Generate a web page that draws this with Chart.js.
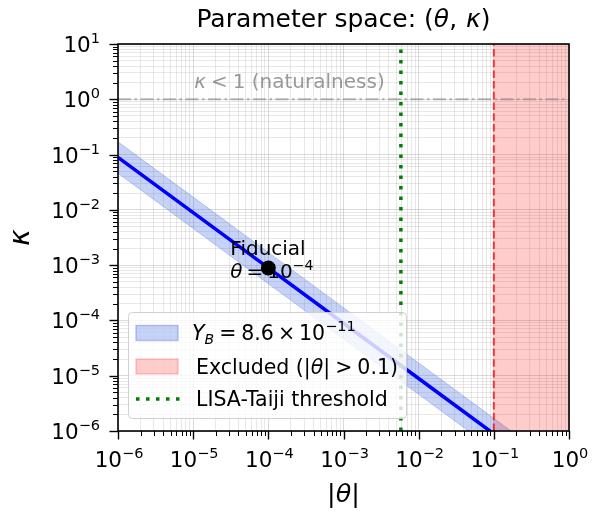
<!DOCTYPE html>
<html><head><meta charset="utf-8">
<script src="https://cdn.jsdelivr.net/npm/chart.js@4"></script>
<style>html,body{margin:0;padding:0;background:#fff;}canvas{display:block;}</style>
</head><body>
<canvas id="c" width="592" height="512"></canvas>
<script>
// ---- data ----
const thetaValues  = [1e-6, 1e-5, 1e-4, 1e-3, 1e-2, 1e-1, 1];
const kappaCentral = [8.9e-2, 8.9e-3, 8.9e-4, 8.9e-5, 8.9e-6, 8.9e-7, 8.9e-8];
const kappaUpper   = [1.7e-1, 1.7e-2, 1.7e-3, 1.7e-4, 1.7e-5, 1.7e-6, 1.7e-7];
const kappaLower   = [4.6e-2, 4.6e-3, 4.6e-4, 4.6e-5, 4.6e-6, 4.6e-7, 4.6e-8];
const excludedTheta = [0.1, 1];
const kappaNaturalness = 1;
const thetaLisaTaiji = 5.8e-3;
const fiducialTheta = [1e-4];
const fiducialKappa = [8.9e-4];
const xRange = [1e-6, 1];
const yRange = [1e-6, 10];
const xTickValues = [1e-6, 1e-5, 1e-4, 1e-3, 1e-2, 1e-1, 1];
const xTickExponents = ['−6', '−5', '−4', '−3', '−2', '−1', '0'];
const yTickValues = [1e-6, 1e-5, 1e-4, 1e-3, 1e-2, 1e-1, 1, 10];
const yTickExponents = ['−6', '−5', '−4', '−3', '−2', '−1', '0', '1'];
const legendLabels = ['Y_B = 8.6 × 10^-11', 'Excluded (|θ| > 0.1)', 'LISA-Taiji threshold'];

const FONT = "'DejaVu Sans', sans-serif";
const zip = (xs, ys) => xs.map((x, i) => ({x: x, y: ys[i]}));

function logTicks(majors) {
  const out = [];
  for (let i = 0; i < majors.length; i++) {
    out.push({value: majors[i], major: true});
    if (i < majors.length - 1) for (let m = 2; m <= 9; m++) out.push({value: majors[i] * m, major: false});
  }
  return out;
}

function drawPieces(ctx, pieces, x, y, align) {
  let w = 0;
  pieces.forEach(p => { ctx.font = (p.italic ? 'italic ' : '') + p.size + 'px ' + FONT; p.w = ctx.measureText(p.t).width; w += p.w + (p.gap || 0); });
  let cx = align === 'center' ? x - w / 2 : (align === 'right' ? x - w : x);
  ctx.textAlign = 'left'; ctx.textBaseline = 'alphabetic';
  pieces.forEach(p => { ctx.font = (p.italic ? 'italic ' : '') + p.size + 'px ' + FONT; ctx.fillText(p.t, cx, y + (p.dy || 0)); cx += p.w + (p.gap || 0); });
  return w;
}
const pow10 = e => [{t: '10', size: 21.5}, {t: e, size: 14.5, dy: -9}];

const decor = {
  id: 'decor',
  beforeDatasetDraw(chart, args) {
    if (args.index !== 0) return;
    const ctx = chart.ctx, xs = chart.scales.x, ys = chart.scales.y;
    ctx.save();
    ctx.fillStyle = 'rgba(128,128,128,0.8)';
    drawPieces(ctx, [{t: 'κ', italic: true, size: 20, gap: 5}, {t: '<', size: 20, gap: 5}, {t: '1 (naturalness)', size: 20}],
      xs.getPixelForValue(1e-5) + 1, ys.getPixelForValue(kappaNaturalness) - 11, 'left');
    const px = xs.getPixelForValue(fiducialTheta[0]), py = ys.getPixelForValue(fiducialKappa[0]);
    ctx.fillStyle = '#000';
    drawPieces(ctx, [{t: 'Fiducial', size: 20}], px - 38, py - 13, 'left');
    drawPieces(ctx, [{t: 'θ', italic: true, size: 20, gap: 4}, {t: '=', size: 20, gap: 4}, {t: '10', size: 20}, {t: '−4', size: 14, dy: -8}], px - 38, py + 10, 'left');
    ctx.restore();
  },
  afterDatasetsDraw(chart) {
    const ctx = chart.ctx, a = chart.chartArea;
    ctx.save();
    const L = a.left + 10, T = a.bottom - 119, W = 278, H = 106;
    ctx.beginPath();
    ctx.roundRect(L + 0.5, T + 0.5, W, H, 4);
    ctx.fillStyle = 'rgba(255,255,255,0.8)'; ctx.fill();
    ctx.strokeStyle = 'rgba(204,204,204,0.9)'; ctx.lineWidth = 1; ctx.stroke();
    const hx = L + 8, hw = 42, rows = [T + 21, T + 54.5, T + 87];
    ctx.fillStyle = 'rgba(65,105,225,0.3)'; ctx.fillRect(hx, rows[0] - 7.5, hw, 15);
    ctx.strokeStyle = 'rgba(65,105,225,0.35)'; ctx.lineWidth = 1.5; ctx.strokeRect(hx, rows[0] - 7.5, hw, 15);
    ctx.fillStyle = 'rgba(255,0,0,0.2)'; ctx.fillRect(hx, rows[1] - 7.5, hw, 15);
    ctx.strokeStyle = 'rgba(255,0,0,0.2)'; ctx.strokeRect(hx, rows[1] - 7.5, hw, 15);
    ctx.beginPath(); ctx.setLineDash([3.5, 6.5]); ctx.strokeStyle = 'green'; ctx.lineWidth = 3.5;
    ctx.moveTo(hx, rows[2]); ctx.lineTo(hx + hw + 2, rows[2]); ctx.stroke(); ctx.setLineDash([]);
    ctx.fillStyle = '#000';
    const tx = hx + hw + 18;
    drawPieces(ctx, [{t: 'Y', italic: true, size: 20.5}, {t: 'B', italic: true, size: 14, dy: 4, gap: 5}, {t: '=', size: 20.5, gap: 5}, {t: '8.6', size: 20.5, gap: 4}, {t: '×', size: 20.5, gap: 4}, {t: '10', size: 20.5}, {t: '−11', size: 14.5, dy: -9}], tx - 4, rows[0] + 7, 'left');
    drawPieces(ctx, [{t: 'Excluded (|', size: 20.5}, {t: 'θ', italic: true, size: 20.5}, {t: '|', size: 20.5, gap: 5}, {t: '>', size: 20.5, gap: 5}, {t: '0.1)', size: 20.5}], tx, rows[1] + 7, 'left');
    drawPieces(ctx, [{t: legendLabels[2], size: 20.5}], tx, rows[2] + 7, 'left');
    ctx.restore();
  },
  afterDraw(chart) {
    const ctx = chart.ctx, a = chart.chartArea, xs = chart.scales.x, ys = chart.scales.y;
    ctx.save();
    ctx.strokeStyle = '#000';
    xs.ticks.forEach(t => {
      const p = Math.round(xs.getPixelForValue(t.value)) + 0.5;
      ctx.lineWidth = t.major ? 1.4 : 1; ctx.beginPath(); ctx.moveTo(p, a.bottom); ctx.lineTo(p, a.bottom + (t.major ? 8.5 : 5)); ctx.stroke();
    });
    ys.ticks.forEach(t => {
      const p = Math.round(ys.getPixelForValue(t.value)) + 0.5;
      ctx.lineWidth = t.major ? 1.4 : 1; ctx.beginPath(); ctx.moveTo(a.left, p); ctx.lineTo(a.left - (t.major ? 8.5 : 5), p); ctx.stroke();
    });
    ctx.lineWidth = 1.6;
    ctx.strokeRect(a.left, a.top, a.right - a.left, a.bottom - a.top);
    ctx.fillStyle = '#000';
    xTickValues.forEach((v, i) => drawPieces(ctx, pow10(xTickExponents[i]), xs.getPixelForValue(v) + 1, a.bottom + 36, 'center'));
    yTickValues.forEach((v, i) => drawPieces(ctx, pow10(yTickExponents[i]), a.left - 18, ys.getPixelForValue(v) + 8, 'right'));
    drawPieces(ctx, [{t: 'Parameter space: (', size: 25}, {t: 'θ', italic: true, size: 25}, {t: ',', size: 25, gap: 9}, {t: 'κ', italic: true, size: 25}, {t: ')', size: 25}], (a.left + a.right) / 2, 27, 'center');
    drawPieces(ctx, [{t: '|', size: 25.5}, {t: 'θ', italic: true, size: 25.5}, {t: '|', size: 25.5}], (a.left + a.right) / 2, 502, 'center');
    ctx.translate(29, (a.top + a.bottom) / 2); ctx.rotate(-Math.PI / 2);
    drawPieces(ctx, [{t: 'κ', italic: true, size: 28}], 0, 0, 'center');
    ctx.restore();
  }
};

const gridColor = c => (c.tick && c.tick.major) ? 'rgba(150,150,150,0.35)' : 'rgba(150,150,150,0.22)';

new Chart(document.getElementById('c'), {
  type: 'line',
  data: {
    datasets: [
      {label: 'Fiducial', data: zip(fiducialTheta, fiducialKappa), showLine: false, pointRadius: 7.5, pointBackgroundColor: '#000', pointBorderColor: '#000', pointBorderWidth: 0, order: 0},
      {label: 'LISA-Taiji threshold', data: zip([thetaLisaTaiji, thetaLisaTaiji], yRange), borderColor: 'green', borderWidth: 3.5, borderDash: [3.5, 7], pointRadius: 0, order: 1, clip: 0},
      {label: 'naturalness', data: zip(xRange, [kappaNaturalness, kappaNaturalness]), borderColor: 'rgba(128,128,128,0.55)', borderWidth: 2, borderDash: [13, 3.5, 2.5, 3.5], pointRadius: 0, order: 2, clip: 0},
      {label: 'bound', data: zip([excludedTheta[0], excludedTheta[0]], yRange), borderColor: 'rgba(255,0,0,0.75)', borderWidth: 2, borderDash: [7.5, 3.2], pointRadius: 0, order: 3, clip: 0},
      {label: 'Excluded', data: zip([excludedTheta[0], excludedTheta[0], excludedTheta[1], excludedTheta[1]], [yRange[0], yRange[1], yRange[1], yRange[0]]), borderWidth: 0, backgroundColor: 'rgba(255,0,0,0.2)', fill: 'shape', pointRadius: 0, order: 4, clip: 0},
      {label: 'central', data: zip(thetaValues, kappaCentral), borderColor: '#0000ff', borderWidth: 3.5, pointRadius: 0, order: 5, clip: 0},
      {label: 'upper', data: zip(thetaValues, kappaUpper), borderColor: 'rgba(65,105,225,0.3)', borderWidth: 1, backgroundColor: 'rgba(65,105,225,0.3)', fill: '+1', pointRadius: 0, order: 6, clip: 0},
      {label: 'lower', data: zip(thetaValues, kappaLower), borderColor: 'rgba(65,105,225,0.3)', borderWidth: 1, pointRadius: 0, fill: false, order: 7, clip: 0}
    ]
  },
  options: {
    responsive: false, devicePixelRatio: 1, animation: false,
    layout: {padding: {top: 44, right: 23, left: 0, bottom: 0}},
    plugins: {legend: {display: false}, tooltip: {enabled: false}, title: {display: false}},
    elements: {line: {tension: 0}},
    scales: {
      x: {
        type: 'logarithmic', min: xRange[0], max: xRange[1],
        afterBuildTicks: s => { s.ticks = logTicks(xTickValues); },
        afterFit: s => { s.height = 81; s.paddingLeft = 0; s.paddingRight = 0; },
        ticks: {display: false, autoSkip: false, maxRotation: 0},
        grid: {color: gridColor, lineWidth: 1, drawTicks: false},
        border: {display: false}
      },
      y: {
        type: 'logarithmic', min: yRange[0], max: yRange[1],
        afterBuildTicks: s => { s.ticks = logTicks(yTickValues); },
        afterFit: s => { s.width = 118; s.paddingTop = 0; s.paddingBottom = 0; },
        ticks: {display: false, autoSkip: false},
        grid: {color: gridColor, lineWidth: 1, drawTicks: false},
        border: {display: false}
      }
    }
  },
  plugins: [decor]
});
</script>
</body></html>
